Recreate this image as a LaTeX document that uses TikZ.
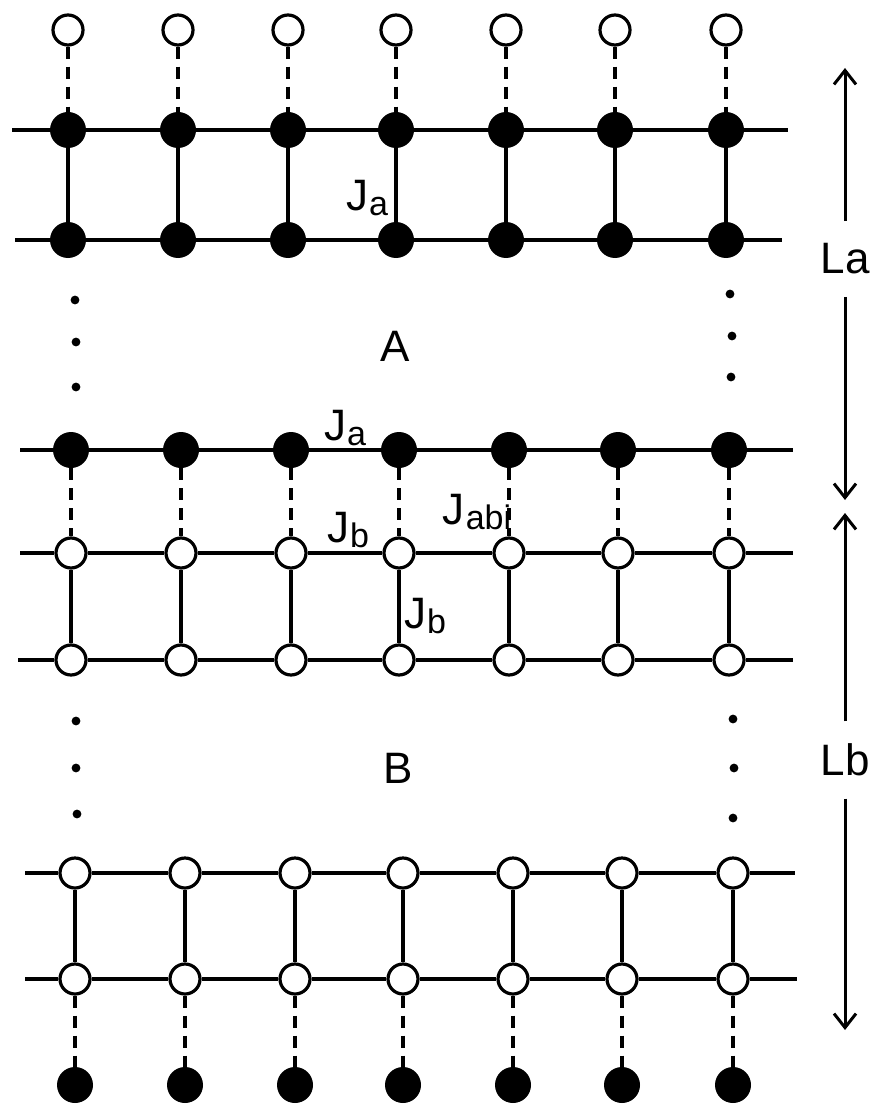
\documentclass[tikz,border=0pt]{standalone}
\usepackage{fontspec}
\setmainfont{Liberation Sans}
\usepackage{tikz}
\usetikzlibrary{positioning, arrows.meta, calc}

% 結合定数ラベル（J と小さめの添字）
\newcommand{\jlab}[2]{#1\kern0.5pt\raisebox{-0.12em}{\fontsize{17}{17}\selectfont #2}}

\begin{document}
\begin{tikzpicture}[
    x=0.5pt, y=-0.5pt,      % 1単位 = 元画像の1ピクセル
    >={Straight Barb[length=7pt, width=11pt, line width=1.5pt]},
    font=\fontsize{22}{26}\selectfont,
    filledsite/.style={circle, fill=black, inner sep=0pt, minimum size=18pt},
    opensite/.style={circle, draw, fill=white, line width=1.6pt, inner sep=0pt, minimum size=15pt},
    bond/.style={line width=2.2pt},
    rung/.style={line width=1.6pt},
    weakbond/.style={line width=1.6pt, dash pattern=on 6pt off 4pt},
    dimline/.style={line width=1.5pt},
    dimlabel/.style={inner sep=11pt}
]
    \useasboundingbox (0,0) rectangle (877,1107);

    % --- 1. 格子点（行ごとに y 座標・ずれ・種類） ---
    \foreach \r/\y/\s/\t in {0/30/0/opensite, 1/130/0/filledsite, 2/240/0/filledsite,
                             3/450/3/filledsite, 4/553/3/opensite, 5/660/3/opensite,
                             6/873/7/opensite, 7/979/7/opensite, 8/1085/7/filledsite}
        \foreach \c/\x in {1/68, 2/178, 3/288, 4/396, 5/506, 6/615, 7/726}
            \node [\t] (s\r\c) at (\x+\s, \y) {};

    % --- 2. 横方向の結合（鎖の両端は座標） ---
    \foreach \r/\y/\a/\b in {1/130/12/788, 2/240/15/782, 3/450/20/793, 4/553/20/793,
                             5/660/18/793, 6/873/25/795, 7/979/25/797} {
        \coordinate (l\r) at (\a, \y);
        \coordinate (r\r) at (\b, \y);
        \draw [bond] (l\r) -- (s\r1) -- (s\r2) -- (s\r3) -- (s\r4)
                     -- (s\r5) -- (s\r6) -- (s\r7) -- (r\r);
    }

    % --- 3. 縦方向の結合（実線）と層間結合（破線） ---
    \foreach \c in {1,...,7} {
        \draw [rung] (s1\c) -- (s2\c);
        \draw [rung] (s4\c) -- (s5\c);
        \draw [rung] (s6\c) -- (s7\c);
        \draw [weakbond] (s0\c) -- (s1\c);
        \draw [weakbond] (s3\c) -- (s4\c);
        \draw [weakbond] (s7\c) -- (s8\c);
    }

    % --- 4. 省略記号の点 ---
    \foreach \x/\y in {75/300, 76/342, 76/387, 730/294, 732/336, 731/377,
                       76/721, 76/768, 77/814, 733/719, 734/768, 733/818}
        \fill (\x, \y) circle (2.2pt);

    % --- 5. ラベル ---
    \node (Ja1)  at (367, 198) {\jlab{J}{a}};
    \node (Ja2)  at (345, 428) {\jlab{J}{a}};
    \node (Jb1)  at (348, 530) {\jlab{J}{b}};
    \node (Jabi) at (477, 512) {\jlab{J}{abi}};
    \node (Jb2)  at (425, 616) {\jlab{J}{b}};
    \node (A) at (395, 346) {A};
    \node (B) at (398, 768) {B};

    % --- 6. 右側の厚さ L_a, L_b の矢印 ---
    \node [dimlabel] (La) at (845, 259) {La};
    \node [dimlabel] (Lb) at (845, 760) {Lb};
    \coordinate (LaTop) at (845, 68);
    \coordinate (LaBot) at (845, 500);
    \coordinate (LbTop) at (845, 513);
    \coordinate (LbBot) at (845, 1030);
    \draw [dimline, ->] (La) -- (LaTop);
    \draw [dimline, ->] (La) -- (LaBot);
    \draw [dimline, ->] (Lb) -- (LbTop);
    \draw [dimline, ->] (Lb) -- (LbBot);

\end{tikzpicture}
\end{document}
